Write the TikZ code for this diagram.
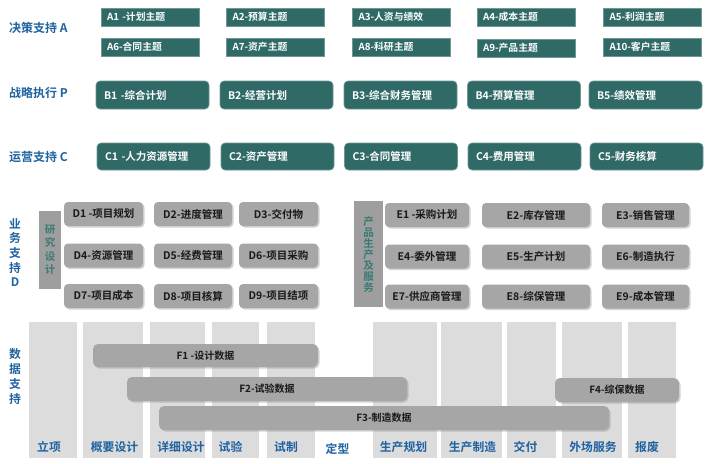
\documentclass[tikz,border=0pt]{standalone}
\usepackage{fontspec}
\setmainfont{Noto Sans CJK SC}[BoldFont={Noto Sans CJK SC Bold}]
\usetikzlibrary{shadows}
\definecolor{tealbox}{HTML}{2F6A67}
\definecolor{tealedge}{HTML}{6F9794}
\definecolor{tealtext}{HTML}{3A7A76}
\definecolor{graybox}{HTML}{A6A6A6}
\definecolor{graycol}{HTML}{DCDCDC}
\definecolor{bluetext}{HTML}{1F62A0}

\begin{document}
\begin{tikzpicture}[x=1pt,y=-1pt,
  abox/.style={fill=tealbox, draw=tealedge, line width=0.6pt, text=white,
    minimum height=18pt, inner xsep=6pt, text width=86pt, align=left,
    font=\fontsize{9.8}{11}\selectfont\bfseries},
  bbox/.style={fill=tealbox, draw=tealedge, line width=0.6pt, text=white, rounded corners=4pt,
    minimum height=28pt, inner xsep=8pt, text width=97pt, align=left,
    font=\fontsize{10.5}{12}\selectfont\bfseries},
  dbox/.style={fill=graybox, rounded corners=4pt, minimum height=24pt, text=black!90,
    drop shadow={shadow xshift=1.5pt, shadow yshift=-1.5pt, opacity=0.35},
    font=\fontsize{10.5}{12}\selectfont\bfseries},
  fbar/.style={fill=graybox, rounded corners=5pt, minimum height=24pt, text=black!90,
    drop shadow={shadow xshift=1.5pt, shadow yshift=-1.5pt, opacity=0.35},
    font=\fontsize{10}{12}\selectfont\bfseries},
  sidebox/.style={fill=graybox!95!black, text=tealtext, align=center, inner sep=0pt},
  stagecol/.style={fill=graycol, inner sep=0pt, minimum height=136pt},
  stage/.style={text=bluetext, font=\fontsize{11.8}{13}\selectfont\bfseries},
  rowlabel/.style={text=bluetext, anchor=west, inner sep=0pt, font=\fontsize{12}{13}\selectfont\bfseries},
  vlabel/.style={text=bluetext, align=center, inner sep=0pt, font=\fontsize{11.8}{14.7}\selectfont\bfseries}]
  \useasboundingbox (0,0) rectangle (709,463);

  % row labels
  \node [rowlabel] (la) at (9,28) {决策支持 A};
  \node [rowlabel] (lp) at (9,93) {战略执行 P};
  \node [rowlabel] (lc) at (9,157) {运营支持 C};
  \node [vlabel] (ld) at (15,252.5) {业\\务\\支\\持\\D};
  \node [vlabel] (lf) at (15,376.5) {数\\据\\支\\持};

  % A: decision support
  \node [abox] (a1) at (150,17) {A1 -计划主题};
  \node [abox] (a2) at (275.5,17) {A2-预算主题};
  \node [abox] (a3) at (401.5,17) {A3-人资与绩效};
  \node [abox] (a4) at (526,17) {A4-成本主题};
  \node [abox] (a5) at (652.5,17) {A5-利润主题};
  \node [abox] (a6) at (150,47) {A6-合同主题};
  \node [abox] (a7) at (275.5,47) {A7-资产主题};
  \node [abox] (a8) at (401.5,47) {A8-科研主题};
  \node [abox] (a9) at (526,48) {A9-产品主题};
  \node [abox] (a10) at (652.5,47) {A10-客户主题};

  % B: strategy
  \node [bbox] (b1) at (152.5,95) {B1 -综合计划};
  \node [bbox] (b2) at (276.5,95) {B2-经营计划};
  \node [bbox] (b3) at (400.5,95) {B3-综合财务管理};
  \node [bbox] (b4) at (524,95) {B4-预算管理};
  \node [bbox] (b5) at (645.5,95) {B5-绩效管理};

  % C: operations
  \node [bbox, minimum height=27pt] (c1) at (153.5,156.5) {C1 -人力资源管理};
  \node [bbox, minimum height=27pt] (c2) at (277.5,156.5) {C2-资产管理};
  \node [bbox, minimum height=27pt] (c3) at (401,156.5) {C3-合同管理};
  \node [bbox, minimum height=27pt] (c4) at (524.5,156.5) {C4-费用管理};
  \node [bbox, minimum height=27pt] (c5) at (646.5,156.5) {C5-财务核算};

  % D: research and design
  \node [sidebox, minimum width=22pt, minimum height=78pt,
    font=\fontsize{10.5}{13.5}\selectfont\bfseries] (rd) at (50,250) {研\\究\\设\\计};
  \node [dbox, minimum width=79pt] (d1) at (103.5,214) {D1 -项目规划};
  \node [dbox, minimum width=78pt] (d2) at (193,214) {D2-进度管理};
  \node [dbox, minimum width=79pt] (d3) at (278.5,214) {D3-交付物};
  \node [dbox, minimum width=79pt] (d4) at (103.5,255.5) {D4-资源管理};
  \node [dbox, minimum width=78pt] (d5) at (193,255.5) {D5-经费管理};
  \node [dbox, minimum width=79pt] (d6) at (278.5,255.5) {D6-项目采购};
  \node [dbox, minimum width=79pt] (d7) at (103.5,296) {D7-项目成本};
  \node [dbox, minimum width=78pt] (d8) at (193,296) {D8-项目核算};
  \node [dbox, minimum width=79pt] (d9) at (278.5,296) {D9-项目结项};

  % E: production and service
  \node [sidebox, minimum width=29pt, minimum height=106pt,
    font=\fontsize{10.5}{11}\selectfont\bfseries] (ps) at (368.5,254) {产\\品\\生\\产\\及\\服\\务};
  \node [dbox, minimum width=84pt] (e1) at (427,215) {E1 -采购计划};
  \node [dbox, minimum width=108pt] (e2) at (536,215) {E2-库存管理};
  \node [dbox, minimum width=87pt] (e3) at (645.5,215) {E3-销售管理};
  \node [dbox, minimum width=84pt] (e4) at (427,256.5) {E4-委外管理};
  \node [dbox, minimum width=108pt] (e5) at (536,256.5) {E5-生产计划};
  \node [dbox, minimum width=87pt] (e6) at (645.5,256.5) {E6-制造执行};
  \node [dbox, minimum width=84pt] (e7) at (427,296.5) {E7-供应商管理};
  \node [dbox, minimum width=108pt] (e8) at (536,296.5) {E8-综保管理};
  \node [dbox, minimum width=87pt] (e9) at (645.5,296.5) {E9-成本管理};

  % stage columns
  \node [stagecol, minimum width=48pt] (s1) at (53,390) {};
  \node [stagecol, minimum width=60pt] (s2) at (113,390) {};
  \node [stagecol, minimum width=55pt] (s3) at (177.5,390) {};
  \node [stagecol, minimum width=47pt] (s4) at (235.5,390) {};
  \node [stagecol, minimum width=48pt] (s5) at (291,390) {};
  \node [stagecol, minimum width=64pt] (s7) at (405,390) {};
  \node [stagecol, minimum width=61pt] (s8) at (471.5,390) {};
  \node [stagecol, minimum width=49pt] (s9) at (531.5,390) {};
  \node [stagecol, minimum width=60pt] (s10) at (592,390) {};
  \node [stagecol, minimum width=48pt] (s11) at (652,390) {};

  \node [stage] (t1) at (49,447) {立项};
  \node [stage] (t2) at (114.5,447) {概要设计};
  \node [stage] (t3) at (181,447) {详细设计};
  \node [stage] (t4) at (230.5,447) {试验};
  \node [stage] (t5) at (286,447) {试制};
  \node [stage] (t6) at (337.5,449) {定型};
  \node [stage] (t7) at (403.5,447) {生产规划};
  \node [stage] (t8) at (472.5,447) {生产制造};
  \node [stage] (t9) at (525.5,447) {交付};
  \node [stage] (t10) at (593,447) {外场服务};
  \node [stage] (t11) at (647,447) {报废};

  % F: data bars
  \node [fbar, minimum width=225pt, minimum height=23pt] (f1) at (205.5,355.5) {F1 -设计数据};
  \node [fbar, minimum width=280pt] (f2) at (267,389) {F2-试验数据};
  \node [fbar, minimum width=124pt] (f4) at (617,390) {F4-综保数据};
  \node [fbar, minimum width=450pt] (f3) at (384,418) {F3-制造数据};
\end{tikzpicture}
\end{document}
